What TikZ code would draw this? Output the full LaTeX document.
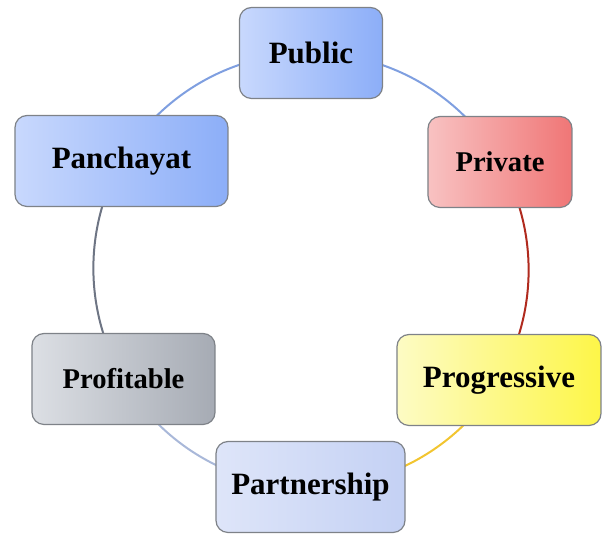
\documentclass[tikz,border=0pt]{standalone}
\usepackage{fontspec}
\setmainfont{Liberation Serif}
\usetikzlibrary{backgrounds}
\definecolor{arcblue}{HTML}{7F9FE0}
\definecolor{arcred}{HTML}{B02A1E}
\definecolor{arcyellow}{HTML}{F2C530}
\definecolor{arcsteel}{HTML}{A9B8D9}
\definecolor{arcgray}{HTML}{6E7584}
\definecolor{boxborder}{HTML}{7E8288}
\tikzset{
  box/.style={rounded corners=6pt, draw=boxborder, line width=0.6pt,
    minimum height=45.5pt, inner sep=0pt, align=center,
    font=\fontsize{15.5}{18}\selectfont\bfseries, text=black},
  smalltext/.style={font=\fontsize{14.3}{17}\selectfont\bfseries},
  blueA/.style={left color={rgb,255:red,200;green,216;blue,253}, right color={rgb,255:red,140;green,174;blue,248}},
  redA/.style={left color={rgb,255:red,248;green,194;blue,194}, right color={rgb,255:red,240;green,118;blue,118}},
  yellowA/.style={left color={rgb,255:red,253;green,251;blue,196}, right color={rgb,255:red,253;green,246;blue,72}},
  lavA/.style={left color={rgb,255:red,222;green,229;blue,249}, right color={rgb,255:red,196;green,209;blue,244}},
  grayA/.style={left color={rgb,255:red,220;green,223;blue,228}, right color={rgb,255:red,166;green,171;blue,180}},
  ring/.style={line width=1pt, looseness=0.91}
}
\begin{document}
\begin{tikzpicture}[x=0.5pt,y=0.5pt]
\useasboundingbox (0,0) rectangle (602,535);
\coordinate (O) at (311,265);
\node[box, blueA, minimum width=71.5pt] (public) at (311,482) {Public};
\node[box, redA, minimum width=72pt, smalltext] (private) at (500,373) {Private};
\node[box, yellowA, minimum width=102pt] (progressive) at (499,155) {Progressive};
\node[box, lavA, minimum width=94.5pt] (partnership) at (310.5,48) {Partnership};
\node[box, grayA, minimum width=91.5pt, smalltext] (profitable) at (123.5,156) {Profitable};
\node[box, blueA, minimum width=106.5pt] (panchayat) at (121.5,374) {Panchayat};
\begin{scope}[on background layer]
\draw[ring, arcblue] (public.center) to[bend left=30] (private.center);
\draw[ring, arcred] (private.center) to[bend left=30] (progressive.center);
\draw[ring, arcyellow] (progressive.center) to[bend left=30] (partnership.center);
\draw[ring, arcsteel] (partnership.center) to[bend left=30] (profitable.center);
\draw[ring, arcgray] (profitable.center) to[bend left=30] (panchayat.center);
\draw[ring, arcblue] (panchayat.center) to[bend left=30] (public.center);
\end{scope}
\end{tikzpicture}
\end{document}
